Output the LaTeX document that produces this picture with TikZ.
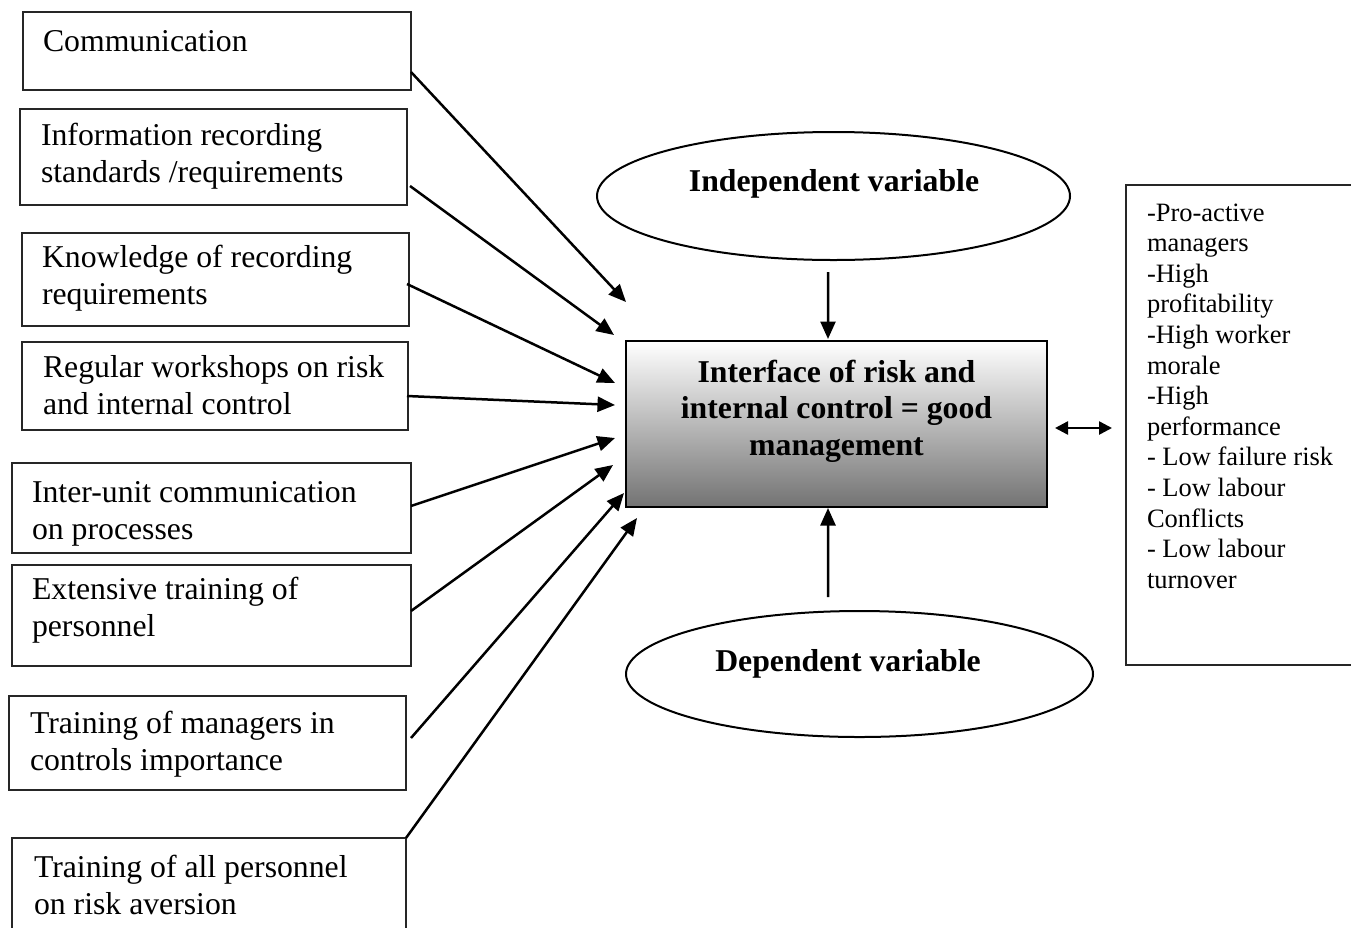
\documentclass[tikz,border=0pt]{standalone}
\usepackage{fontspec}
\setmainfont{Liberation Serif}
\usetikzlibrary{arrows.meta,shapes.geometric,calc}

% rectangle node from two corners given in pixel units: name, x1, y1, x2, y2, style
\newcommand\pxbox[6]{%
  \node[#6, minimum width={(#4-#2)*0.4pt}, minimum height={(#5-#3)*0.4pt}]
    (#1) at ({(#2+#4)/2},{(#3+#5)/2}) {};}

\begin{document}
\begin{tikzpicture}[x=0.4pt,y=-0.4pt,
  frame/.style={draw=black!85, line width=0.8pt, inner sep=0pt, outer sep=0pt},
  oval/.style={ellipse, draw=black, line width=0.8pt, inner sep=0pt, outer sep=0pt},
  txt/.style={anchor=north west, inner sep=0pt, outer sep=0pt, align=left,
              font=\fontsize{12.7}{14.8}\selectfont},
  sidetxt/.style={anchor=north west, inner sep=0pt, outer sep=0pt, align=left,
              font=\fontsize{10.6}{12.24}\selectfont},
  headtxt/.style={anchor=north, inner sep=0pt, outer sep=0pt, align=center,
              font=\fontsize{12.7}{14.6}\selectfont\bfseries},
  arr/.style={line width=1pt, -{Triangle[length=7pt,width=6pt]}},
  darr/.style={line width=1pt, {Triangle[length=5.2pt,width=5.2pt]}-{Triangle[length=5.2pt,width=5.2pt]}}
]
\useasboundingbox (0,0) rectangle (1351,927);

% factor boxes on the left
\pxbox{b1}{23}{12}{411}{90}{frame}
\pxbox{b2}{20}{109}{407}{205}{frame}
\pxbox{b3}{22}{233}{409}{326}{frame}
\pxbox{b4}{22}{342}{408}{430}{frame}
\pxbox{b5}{12}{463}{411}{553}{frame}
\pxbox{b6}{12}{565}{411}{666}{frame}
\pxbox{b7}{9}{696}{406}{790}{frame}
\pxbox{b8}{12}{838}{406}{945}{frame}

\node[txt] (t1) at (43,26)  {\strut Communication};
\node[txt] (t2) at (41,120) {\strut Information recording\\standards /requirements\strut};
\node[txt] (t3) at (42,242) {\strut Knowledge of recording\\requirements\strut};
\node[txt] (t4) at (43,352) {\strut Regular workshops on risk\\and internal control\strut};
\node[txt] (t5) at (32,477) {\strut Inter-unit communication\\on processes\strut};
\node[txt] (t6) at (32,574) {\strut Extensive training of\\personnel\strut};
\node[txt] (t7) at (30,708) {\strut Training of managers in\\controls importance\strut};
\node[txt] (t8) at (34,852) {\strut Training of all personnel\\on risk aversion\strut};

% central box with shaded fill
\pxbox{core}{626}{341}{1047}{507}{frame, draw=black, top color=white, middle color=black!9, bottom color=black!55}
\node[headtxt] (corelbl) at (836.5,356.5)
  {\strut Interface of risk and\\internal control = good\\management\strut};

% variable ovals
\node[oval, minimum width={473*0.4pt}, minimum height={128*0.4pt}] (ind) at (833.5,196) {};
\node[headtxt] (indlbl) at (834,166) {\strut Independent variable};
\node[oval, minimum width={467*0.4pt}, minimum height={126*0.4pt}] (dep) at (859.5,674) {};
\node[headtxt] (deplbl) at (848,646) {\strut Dependent variable};

% outcome box on the right
\pxbox{outc}{1126}{185}{1362}{665}{frame}
\node[sidetxt] (outlbl) at (1147,199.6) {\strut -Pro-active\\managers\\-High\\profitability\\-High worker\\morale\\-High\\performance\\- Low failure risk\\- Low labour\\Conflicts\\- Low labour\\turnover\strut};

% arrow tips beside the central box
\coordinate (e1) at (626,302);
\coordinate (e2) at (614,335);
\coordinate (e3) at (615,383);
\coordinate (e4) at (615,405);
\coordinate (e5) at (615,438);
\coordinate (e6) at (613,465);
\coordinate (e7) at (624,493);
\coordinate (e8) at (637,518);

\draw[arr] ($(b1.north east)+(0,60)$) -- (e1);
\draw[arr] ($(b2.north east)+(3,77)$) -- (e2);
\draw[arr] ($(b3.north east)+(-2,51)$) -- (e3);
\draw[arr] ($(b4.north east)+(-1,54)$) -- (e4);
\draw[arr] ($(b5.north east)+(0,43)$) -- (e5);
\draw[arr] ($(b6.north east)+(0,46)$) -- (e6);
\draw[arr] ($(b7.north east)+(5,42)$) -- (e7);
\draw[arr] (b8.north east) -- (e8);

% oval to centre connectors
\draw[arr] ([xshift=-2.2pt,yshift=-4.8pt]ind.south) -- ([xshift=-3.4pt,yshift=0.8pt]core.north);
\draw[arr] ([xshift=-12.6pt,yshift=5.6pt]dep.north) -- ([xshift=-3.4pt,yshift=-0.4pt]core.south);

% two-way link to the outcome box
\coordinate (dh) at ([xshift=3.2pt,yshift=-1.6pt]core.east);
\draw[darr, shorten >=5.6pt] (dh) -- (dh -| outc.west);
\end{tikzpicture}
\end{document}
